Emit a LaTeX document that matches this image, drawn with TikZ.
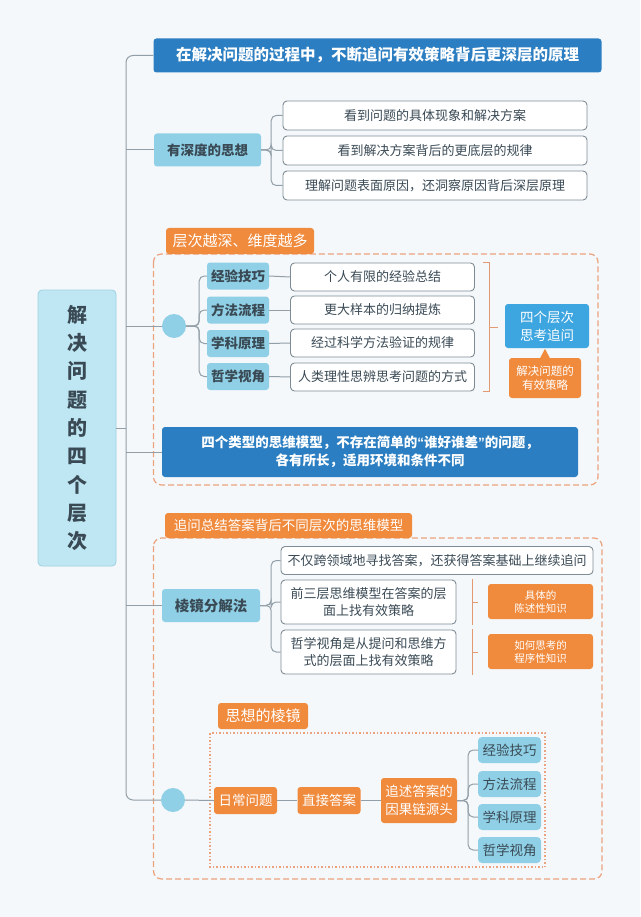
\documentclass[tikz,border=0pt]{standalone}
\usepackage{fontspec}
\setmainfont{Noto Sans CJK SC}
\newfontfamily\latq{Liberation Sans}
\usetikzlibrary{calc}
\definecolor{bg}{HTML}{F4F8FB}
\definecolor{dkblue}{HTML}{2B7EC1}
\definecolor{ltblue}{HTML}{8FD0E6}
\definecolor{rootfill}{HTML}{BEE7F3}
\definecolor{rootdraw}{HTML}{9FD2E3}
\definecolor{medblue}{HTML}{3DA5DF}
\definecolor{orng}{HTML}{F08A3C}
\definecolor{odash}{HTML}{EDA27E}
\definecolor{brk}{HTML}{E49A70}
\definecolor{txt}{HTML}{3A4A55}
\definecolor{wborder}{HTML}{7F8C95}
\definecolor{lnc}{HTML}{929FA8}
\tikzset{
  box/.style={rectangle, inner sep=0pt, align=center},
  darkbox/.style={box, fill=dkblue, rounded corners=3pt, text=white, font=\bfseries\fontsize{15.5}{19}\selectfont},
  lbox/.style={box, fill=ltblue, rounded corners=3pt, text=txt, font=\bfseries\fontsize{13.5}{17}\selectfont},
  wbox/.style={box, fill=white, draw=wborder, line width=0.9pt, rounded corners=4pt, text=txt, font=\fontsize{13}{17}\selectfont},
  obox/.style={box, fill=orng, rounded corners=3pt, text=white, font=\fontsize{13.5}{18}\selectfont},
  tagbox/.style={obox, font=\fontsize{15}{18}\selectfont},
  knode/.style={obox, font=\fontsize{10.5}{13}\selectfont},
  fbox/.style={box, fill=ltblue, rounded corners=4pt, text=txt, minimum width=63pt, minimum height=26pt, font=\fontsize{13.5}{17}\selectfont},
  dot/.style={circle, fill=ltblue, inner sep=0pt, minimum size=24pt},
  conn/.style={draw=lnc, line width=1pt},
  obrk/.style={draw=brk, line width=1pt},
  dashframe/.style={draw=odash, line width=1.2pt, dash pattern=on 6pt off 3pt, rounded corners=8pt},
  dotframe/.style={draw=odash, line width=1.3pt, dash pattern=on 1.5pt off 2pt}
}
\begin{document}
\begin{tikzpicture}[x=1pt,y=-1pt]
\fill[bg] (0,0) rectangle (640,917);
\useasboundingbox (0,0) rectangle (640,917);

% frames
\draw[dashframe] (153.5,254) rectangle (598,485);
\draw[dashframe] (153.5,538) rectangle (602,879);
\draw[dotframe] (210,733) rectangle (545,867);

% root
\node[box, fill=rootfill, draw=rootdraw, line width=0.8pt, rounded corners=4pt, minimum width=78pt, minimum height=276pt, text=txt, font=\bfseries\fontsize{20}{28.3}\selectfont] (root) at (77,428) {解\\决\\问\\题\\的\\四\\个\\层\\次};

% section 1
\node[darkbox, minimum width=448pt, minimum height=34pt] (b1) at (377.5,55.5) {在解决问题的过程中，不断追问有效策略背后更深层的原理};

% section 2
\node[lbox, minimum width=107pt, minimum height=33pt] (deep) at (207.5,150) {有深度的思想};
\node[wbox, minimum width=304pt, minimum height=29pt] (d1) at (435,115.5) {看到问题的具体现象和解决方案};
\node[wbox, minimum width=304pt, minimum height=29pt] (d2) at (435,150.5) {看到解决方案背后的更底层的规律};
\node[wbox, minimum width=304pt, minimum height=29pt] (d3) at (435,185.5) {理解问题表面原因，还洞察原因背后深层原理};

% section 3
\node[tagbox, minimum width=148pt, minimum height=26pt] (tag3) at (240,241) {层次越深、维度越多};
\node[dot] (c3) at (174,326) {};
\node[lbox, minimum width=62pt, minimum height=27pt] (L1) at (238,276) {经验技巧};
\node[lbox, minimum width=62pt, minimum height=27pt] (L2) at (238,310) {方法流程};
\node[lbox, minimum width=62pt, minimum height=27pt] (L3) at (238,343.5) {学科原理};
\node[lbox, minimum width=62pt, minimum height=27pt] (L4) at (238,376.5) {哲学视角};
\node[wbox, minimum width=184pt, minimum height=28pt] (W1) at (382.5,277) {个人有限的经验总结};
\node[wbox, minimum width=184pt, minimum height=28pt] (W2) at (382.5,310) {更大样本的归纳提炼};
\node[wbox, minimum width=184pt, minimum height=28pt] (W3) at (382.5,343) {经过科学方法验证的规律};
\node[wbox, minimum width=184pt, minimum height=28pt] (W4) at (382.5,377) {人类理性思辨思考问题的方式};
\node[box, fill=medblue, rounded corners=3pt, text=white, minimum width=84pt, minimum height=44pt, font=\fontsize{13.5}{18}\selectfont] (four) at (547,326) {四个层次\\思考追问};
\node[obox, minimum width=72pt, minimum height=40pt, font=\fontsize{11.5}{14}\selectfont] (strat) at (545,378) {解决问题的\\有效策略};
\fill[orng] ($(strat.north)+(-5,0.5)$) -- ($(strat.north)+(0,-9)$) -- ($(strat.north)+(5,0.5)$) -- cycle;
\node[darkbox, minimum width=416pt, minimum height=50pt, font=\bfseries\fontsize{13.5}{18}\selectfont] (dk2) at (370,452) {四个类型的思维模型，不存在简单的{\latq “}谁好谁差{\latq ”}的问题，\\各有所长，适用环境和条件不同};

% section 4
\node[obox, minimum width=247pt, minimum height=25pt] (tag4) at (288.5,525.5) {追问总结答案背后不同层次的思维模型};
\node[lbox, minimum width=98pt, minimum height=33pt, font=\bfseries\fontsize{14.5}{17}\selectfont] (prism) at (211,605.5) {棱镜分解法};
\node[wbox, minimum width=312pt, minimum height=28pt] (P1) at (437,560.5) {不仅跨领域地寻找答案，还获得答案基础上继续追问};
\node[wbox, minimum width=175pt, minimum height=44pt] (P2) at (368.5,602) {前三层思维模型在答案的层\\面上找有效策略};
\node[wbox, minimum width=175pt, minimum height=44pt] (P3) at (368.5,652) {哲学视角是从提问和思维方\\式的层面上找有效策略};
\node[knode, minimum width=105pt, minimum height=35pt] (K1) at (540.5,601.5) {具体的\\陈述性知识};
\node[knode, minimum width=105pt, minimum height=35pt] (K2) at (540.5,651.5) {如何思考的\\程序性知识};

% section 5
\node[tagbox, minimum width=90pt, minimum height=26pt] (tag5) at (263,716) {思想的棱镜};
\node[dot] (c5) at (173,800) {};
\node[obox, minimum width=63pt, minimum height=27pt] (E1) at (245.5,800.5) {日常问题};
\node[obox, minimum width=63pt, minimum height=27pt] (E2) at (329,800.5) {直接答案};
\node[obox, minimum width=76pt, minimum height=45pt] (E3) at (419,800.5) {追述答案的\\因果链源头};
\node[fbox] (F1) at (509.5,750) {经验技巧};
\node[fbox] (F2) at (509.5,784) {方法流程};
\node[fbox] (F3) at (509.5,817) {学科原理};
\node[fbox] (F4) at (509.5,850) {哲学视角};

% trunk
\coordinate (tx) at (126,0);
\draw[conn, rounded corners=7pt] (b1.west) -- (b1.west -| tx) -- (c5.west -| tx) -- (c5.west);
\draw[conn] (root.east) -- (root.east -| tx);
\draw[conn] (deep.west) -- (deep.west -| tx);
\draw[conn] (c3.west) -- (c3.west -| tx);
\draw[conn] (dk2.west) -- (dk2.west -| tx);
\draw[conn] (prism.west) -- (prism.west -| tx);

% section 2 bracket
\foreach \n in {d1,d2,d3}
  \draw[conn, rounded corners=5pt] (deep.east) -- ++(10,0) |- (\n.west);
% section 3
\foreach \n in {L1,L2,L3,L4}
  \draw[conn, rounded corners=5pt] (c3.east) -- ++(13,0) |- (\n.west);
\foreach \a/\b in {L1/W1,L2/W2,L3/W3,L4/W4}
  \draw[conn] (\a.east) -- (\b.west);
\draw[obrk] ($(W1.north east)+(8,0)$) -- ++(7,0) |- ($(W4.south east)+(8,0)$);
\draw[obrk] ($(W1.north east)!0.5!(W4.south east)+(15,0)$) -- ++(8,0);
% section 4
\foreach \n in {P1,P2,P3}
  \draw[conn, rounded corners=5pt] (prism.east) -- ++(11,0) |- (\n.west);
\draw[obrk] ($(P2.north east)+(16,-1)$) -- ($(P2.south east)+(16,1)$);
\draw[obrk] ($(P2.east)+(16,0)$) -- ++(6,0);
\draw[obrk] ($(P3.north east)+(16,-1)$) -- ($(P3.south east)+(16,1)$);
\draw[obrk] ($(P3.east)+(16,0)$) -- ++(6,0);
% section 5
\draw[conn] (c5.east) -- (E1.west);
\draw[conn] (E1.east) -- (E2.west);
\draw[conn] (E2.east) -- (E3.west);
\foreach \n in {F1,F2,F3,F4}
  \draw[conn, rounded corners=5pt] (E3.east) -- ++(11,0) |- (\n.west);
\end{tikzpicture}
\end{document}
